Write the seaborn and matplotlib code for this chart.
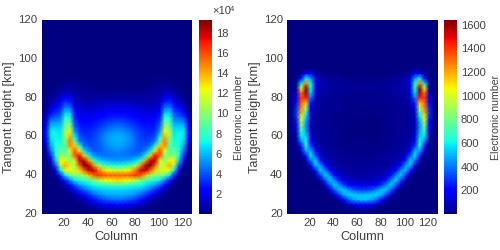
import numpy as np
import pandas as pd
import matplotlib
matplotlib.use("Agg")
import matplotlib.pyplot as plt
import seaborn as sns

sns.set_theme(style="white")
plt.rcParams['font.family'] = ['Liberation Sans', 'DejaVu Sans']
TXT = '#404040'

half_columns = list(range(1, 66, 4))
columns = list(range(1, 130, 4))
heights = [20 + 2.5 * i for i in range(41)]
x_ticks = [20, 40, 60, 80, 100, 120]
y_ticks = [20, 40, 60, 80, 100, 120]
cb_ticks_left = [2, 4, 6, 8, 10, 12, 14, 16, 18]
cb_ticks_right = [200, 400, 600, 800, 1000, 1200, 1400, 1600]

# Values, column 1 to the centre column 65, per height from 20 km up.
# The picture is mirror-symmetric about column 65, so each row is read once.
# electronic number / 1e4
left_half = [
 [0,0,0,0,0,0,0,0,0,0,0,.02,.05,.08,.1,.1,.1],
 [0,0,0,0,0,0,0,0,.05,.1,.2,.3,.4,.6,.8,.9,1],
 [0,0,0,0,0,0,.05,.1,.2,.4,.8,1.2,1.6,2,2.3,2.5,2.6],
 [0,0,0,0,0,.05,.1,.3,.6,1.1,1.8,2.6,3.3,3.8,4.2,4.4,4.5],
 [0,0,0,0,0,.1,.3,.8,1.5,2.4,3.3,4.2,4.9,5.3,5.6,5.7,5.7],
 [0,0,0,0,.05,.2,.9,2,3.2,4.2,5,5.7,6,6.3,6.4,6.4,6.4],
 [0,0,0,.05,.2,1,2.4,4,5.3,6,6.7,7.2,7.6,7.9,8.2,8.4,8.5],
 [0,0,0,.1,.8,2.8,5,6.8,7.4,8,8.6,9.6,11,11.8,12.4,12.8,13],
 [0,0,.02,.4,3,6.8,9,10,10,10.5,13.5,15.5,16.5,16,15.7,15.6,15.6],
 [0,0,.1,1.6,6.8,12,12.5,11,13,15.5,18,18.2,15.5,13.5,12.3,11.8,11.5],
 [0,.02,.5,4,10.5,14,11.5,11,15.5,19,18.7,15,10.5,9,8.3,7.8,7.6],
 [0,.1,1.6,6.2,12.5,12.5,10,12,18,18.5,14.5,8.5,6.8,6,5.7,5.5,5.4],
 [0,.2,3,7.2,10.5,9.5,10,15.5,17.5,13.5,7.5,5.5,4.8,4.6,4.6,4.7,4.8],
 [.05,.5,4.5,7.5,9,8.5,12,16,13,7,5,4.2,4.1,4.4,4.7,4.9,5],
 [.1,1,5.6,7.5,8,8.5,14.5,13.5,8,4.8,4,3.9,4.1,4.6,5.1,5.4,5.5],
 [.2,1.8,6.4,7.3,7.3,9.5,15,9.5,5,3.9,3.6,3.8,4.2,4.8,5.4,5.7,5.8],
 [.25,2.6,6.9,7.2,7,10.5,14,7,4,3.4,3.3,3.6,4.1,4.8,5.3,5.7,5.8],
 [.3,2.8,7,7,6.8,10.5,12.5,5.5,3.4,3,3.1,3.4,3.8,4.4,4.9,5.2,5.3],
 [.25,2.4,6.3,6.3,6.3,9.5,10.5,4.5,3,2.8,2.8,3,3.4,3.8,4.2,4.5,4.6],
 [.2,1.7,5,5.3,5.5,8.5,9,3.8,2.6,2.4,2.4,2.6,2.9,3.2,3.5,3.7,3.8],
 [.1,1.1,3.6,4.2,4.6,7.5,7.5,3,2.1,2,2,2.1,2.3,2.6,2.8,3,3],
 [.05,.6,2.4,3.2,3.7,6.3,6,2.3,1.7,1.6,1.6,1.7,1.9,2,2.2,2.3,2.3],
 [0,.3,1.4,2.2,2.9,4.8,4.4,1.7,1.3,1.2,1.2,1.3,1.4,1.5,1.6,1.7,1.7],
 [0,.15,.8,1.4,2,3.4,3,1.2,1,.9,.9,.9,1,1,1.1,1.1,1.2],
 [0,.05,.4,.8,1.3,2.2,1.9,.9,.7,.6,.6,.6,.6,.6,.7,.7,.7],
 [0,0,.2,.4,.7,1.2,1.1,.6,.5,.4,.4,.4,.4,.4,.4,.4,.4],
 [0,0,.1,.2,.3,.6,.7,.5,.4,.3,.2,.2,.2,.2,.2,.2,.2],
 [0,0,.05,.1,.1,.3,.4,.35,.3,.2,.15,.1,.1,.1,.1,.1,.1],
 [0,0,0,.05,.05,.15,.2,.2,.2,.1,.05,.05,.05,.05,.05,.05,.05],
 [0,0,0,0,0,.05,.05,.05,.05,.02,0,0,0,0,0,0,0],
]

right_half = [
 [0,0,0,0,0,0,0,0,0,0,0,0,0,0,0,3,5],
 [0,0,0,0,0,0,0,0,0,0,0,0,2,8,25,40,45],
 [0,0,0,0,0,0,0,0,0,0,2,10,35,90,160,200,210],
 [0,0,0,0,0,0,0,0,0,3,15,70,190,350,460,510,530],
 [0,0,0,0,0,0,0,0,3,20,100,280,480,560,550,530,520],
 [0,0,0,0,0,0,0,3,20,110,330,530,530,430,350,310,300],
 [0,0,0,0,0,0,3,15,90,330,550,430,290,210,170,150,145],
 [0,0,0,0,0,2,12,70,300,550,420,230,140,105,90,80,80],
 [0,0,0,0,1,8,50,270,540,430,220,120,80,65,60,55,55],
 [0,0,0,0,5,35,200,530,430,210,115,75,55,50,45,45,45],
 [0,0,0,2,20,130,500,470,200,105,70,50,45,40,40,38,36],
 [0,0,0,8,70,360,570,240,105,65,50,42,38,34,30,30,30],
 [0,0,2,30,220,580,340,120,65,50,42,36,30,28,25,25,25],
 [0,0,8,90,450,500,170,75,50,40,35,30,25,22,20,20,20],
 [0,0,20,230,620,290,100,55,42,35,30,25,20,17,15,14,14],
 [0,1,40,420,620,180,70,45,36,30,26,21,16,12,9,7,7],
 [0,2,70,580,550,120,55,40,33,28,24,18,13,8,5,4,4],
 [0,4,120,690,480,90,45,36,31,26,22,17,12,7,4,3,3],
 [0,6,170,810,440,75,40,33,30,26,22,17,12,7,4,3,3],
 [0,8,220,930,460,75,40,33,30,26,22,17,13,8,5,4,4],
 [0,9,270,1060,560,90,42,34,30,26,23,19,15,11,8,7,7],
 [0,9,290,1200,720,115,45,35,31,27,25,21,18,15,13,12,12],
 [0,8,270,1270,930,170,55,38,33,30,27,24,21,18,17,16,16],
 [0,6,220,1330,1170,260,70,42,36,33,30,27,24,22,20,20,20],
 [0,4,170,1380,1450,400,95,50,40,36,33,30,27,25,24,23,23],
 [0,3,110,1300,1600,550,125,60,45,40,37,33,30,28,27,26,26],
 [0,2,70,1020,1620,640,150,70,52,45,40,36,33,31,30,28,28],
 [0,1,30,560,1250,620,160,75,55,48,43,38,35,32,30,28,28],
 [0,0,10,180,600,430,125,60,42,35,30,27,23,20,18,16,15],
 [0,0,3,40,150,150,60,25,15,10,7,5,4,3,2,2,2],
 [0,0,0,5,20,25,10,3,1,0,0,0,0,0,0,0,0],
]


def full_table(half_rows):
    rows = [r + r[-2::-1] for r in half_rows]
    rows += [[0] * len(columns)] * (len(heights) - len(rows))
    return pd.DataFrame(rows, index=heights, columns=columns, dtype=float)


def panel(fig, half_rows, ax_rect, cb_rect, vmax, cb_ticks):
    ax = fig.add_axes(ax_rect)
    cax = fig.add_axes(cb_rect)
    df = full_table(half_rows)
    sns.heatmap(df, ax=ax, cbar_ax=cax, cmap='jet', vmin=0, vmax=vmax, shading='gouraud')
    ax.set_xlim(0, (128 - columns[0]) / 4)
    ax.set_ylim(0, len(heights) - 1)
    ax.set_xticks([(c - columns[0]) / 4 for c in x_ticks], [str(c) for c in x_ticks], rotation=0)
    ax.set_yticks([(h - heights[0]) / 2.5 for h in y_ticks], [str(h) for h in y_ticks], rotation=0)
    ax.tick_params(length=0, pad=3, labelsize=8.2, colors=TXT)
    ax.set_xlabel('Column', fontsize=9.2, color=TXT, labelpad=2)
    ax.set_ylabel('Tangent height [km]', fontsize=9.2, color=TXT, labelpad=2)
    for s in ax.spines.values():
        s.set_visible(False)
    cax.set_yticks(cb_ticks, [str(t) for t in cb_ticks])
    cax.tick_params(length=0, pad=3, labelsize=8, colors=TXT)
    cax.set_ylabel('Electronic number', fontsize=7.6, color=TXT, labelpad=4)
    return ax, cax


fig = plt.figure(figsize=(5, 2.5), dpi=100)
W, H = 500.0, 250.0
bottom = 1 - 214 / H
height = 194 / H
panel(fig, left_half, [41.5 / W, bottom, 150.5 / W, height], [199 / W, bottom, 12.5 / W, height], 19.3, cb_ticks_left)
panel(fig, right_half, [287 / W, bottom, 150.5 / W, height], [444 / W, bottom, 12.5 / W, height], 1640, cb_ticks_right)
fig.text(212 / W, 1 - 16 / H, '×10', fontsize=8, color=TXT, ha='left', va='bottom')
fig.text(230 / W, 1 - 13 / H, '4', fontsize=5.5, color=TXT, ha='left', va='bottom')
fig.savefig('out.png', dpi=100)
